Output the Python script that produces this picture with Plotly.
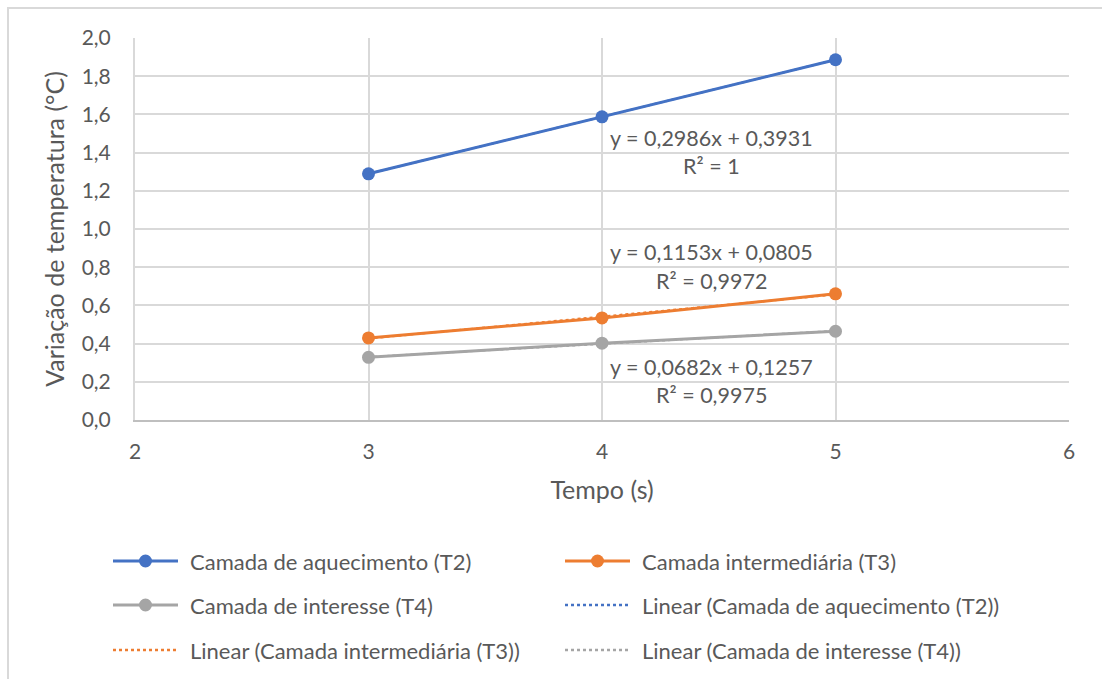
import numpy as np
import plotly.graph_objects as go

# Tempo (s)
tempo = [3, 4, 5]

# Variação de temperatura (°C) por camada
t2_aquecimento = [1.2889, 1.5875, 1.8861]
t3_intermediaria = [0.4299, 0.5346, 0.6605]
t4_interesse = [0.3283, 0.4024, 0.4647]

series_names = ["Camada de aquecimento (T2)", "Camada intermediária (T3)", "Camada de interesse (T4)"]
series_values = [t2_aquecimento, t3_intermediaria, t4_interesse]
series_colors = ["#4472C4", "#ED7D31", "#A5A5A5"]

# equation label anchors: x, y of equation line, y of R² line (data units)
label_pos = [(4.47, 1.478, 1.330), (4.47, 0.877, 0.726), (4.47, 0.277, 0.131)]

x_ticks = [2, 3, 4, 5, 6]
y_ticks = [0.0, 0.2, 0.4, 0.6, 0.8, 1.0, 1.2, 1.4, 1.6, 1.8, 2.0]
y_tick_text = [f"{v:.1f}".replace(".", ",") for v in y_ticks]

FONT = "Lato, 'Open Sans', sans-serif"
TEXT = "#595959"
W, H = 1102, 679
M_L, M_R, M_T, M_B = 135, 33, 38, 259
PW, PH = W - M_L - M_R, H - M_T - M_B


def px_to_paper(px, py):
    return (px - M_L) / PW, (H - M_B - py) / PH


def fmt(v, nd=4):
    return f"{v:.{nd}f}".replace(".", ",")


def fit(x, y):
    x = np.asarray(x, float)
    y = np.asarray(y, float)
    m, b = np.polyfit(x, y, 1)
    pred = m * x + b
    r2 = 1 - np.sum((y - pred) ** 2) / np.sum((y - y.mean()) ** 2)
    return m, b, r2


fig = go.Figure()
annotations = []
shapes = []

for name, vals, col in zip(series_names, series_values, series_colors):
    fig.add_trace(go.Scatter(
        x=tempo, y=vals, name=name, mode="lines+markers",
        line=dict(color=col, width=3),
        marker=dict(color=col, size=13),
    ))

for name, vals, col, (ax, ay1, ay2) in zip(series_names, series_values, series_colors, label_pos):
    m, b, r2 = fit(tempo, vals)
    xs = np.array(tempo, float)
    fig.add_trace(go.Scatter(
        x=xs, y=m * xs + b, name=f"Linear ({name})", mode="lines",
        line=dict(color=col, width=2, dash="dot"),
        hoverinfo="skip",
    ))
    r2_txt = "1" if round(r2, 4) >= 1 else fmt(r2)
    annotations.append(dict(x=ax, y=ay1, xref="x", yref="y",
                            text=f"y = {fmt(m)}x + {fmt(b)}", showarrow=False,
                            font=dict(size=21.5, color=TEXT, family=FONT)))
    annotations.append(dict(x=ax, y=ay2, xref="x", yref="y",
                            text=f"R² = {r2_txt}", showarrow=False,
                            font=dict(size=21.5, color=TEXT, family=FONT)))

# legend: two columns, three rows, filled row by row
legend_items = [(n, c, "solid") for n, c in zip(series_names, series_colors)] + \
               [(f"Linear ({n})", c, "dot") for n, c in zip(series_names, series_colors)]
col_x = [113, 565]
row_y = [561, 605, 650]
sym_len = 65
for i, (label, col, style) in enumerate(legend_items):
    px0 = col_x[i % 2]
    py = row_y[i // 2]
    x0, yy = px_to_paper(px0, py)
    x1, _ = px_to_paper(px0 + sym_len, py)
    xm, _ = px_to_paper(px0 + sym_len / 2, py)
    xt, _ = px_to_paper(px0 + sym_len + 10, py)
    if style == "solid":
        shapes.append(dict(type="line", xref="paper", yref="paper", x0=x0, x1=x1, y0=yy, y1=yy,
                           line=dict(color=col, width=3)))
        shapes.append(dict(type="circle", xref="paper", yref="paper",
                           xsizemode="pixel", ysizemode="pixel", xanchor=xm, yanchor=yy,
                           x0=-6.5, x1=6.5, y0=-6.5, y1=6.5,
                           fillcolor=col, line=dict(color=col, width=0)))
    else:
        shapes.append(dict(type="line", xref="paper", yref="paper", x0=x0, x1=x1, y0=yy, y1=yy,
                           line=dict(color=col, width=2.5, dash="dot")))
    annotations.append(dict(x=xt, y=yy, xref="paper", yref="paper", xanchor="left", yanchor="middle",
                            text=label, showarrow=False,
                            font=dict(size=22, color=TEXT, family=FONT)))

# outer chart border
bx0, by1 = px_to_paper(8, 8)
bx1, by0 = px_to_paper(W + 20, H + 20)
shapes.append(dict(type="rect", xref="paper", yref="paper", x0=bx0, x1=bx1, y0=by0, y1=by1,
                   line=dict(color="#D9D9D9", width=2), layer="below"))

fig.update_layout(
    width=W, height=H,
    margin=dict(l=M_L, r=M_R, t=M_T, b=M_B),
    paper_bgcolor="white", plot_bgcolor="white",
    font=dict(family=FONT, color=TEXT, size=21),
    annotations=annotations,
    shapes=shapes,
    showlegend=False,
)

fig.update_xaxes(
    range=[2, 6], tickvals=x_ticks, ticktext=[str(v) for v in x_ticks],
    showgrid=True, gridcolor="#D9D9D9", gridwidth=2,
    showline=True, linecolor="#BFBFBF", linewidth=2,
    zeroline=False, ticks="", ticklabelstandoff=12,
    tickfont=dict(size=21, color=TEXT, family=FONT),
    title=dict(text="Tempo (s)", font=dict(size=25, color=TEXT, family=FONT), standoff=19),
)
fig.update_yaxes(
    range=[0, 2.0], tickvals=y_ticks, ticktext=y_tick_text,
    showgrid=True, gridcolor="#D9D9D9", gridwidth=2,
    showline=True, linecolor="#D9D9D9", linewidth=2,
    zeroline=False, ticks="", ticklabelstandoff=18,
    tickfont=dict(size=21, color=TEXT, family=FONT),
    title=dict(text="Variação de temperatura (°C)", font=dict(size=25, color=TEXT, family=FONT), standoff=10),
)

fig.write_html("out.html")
